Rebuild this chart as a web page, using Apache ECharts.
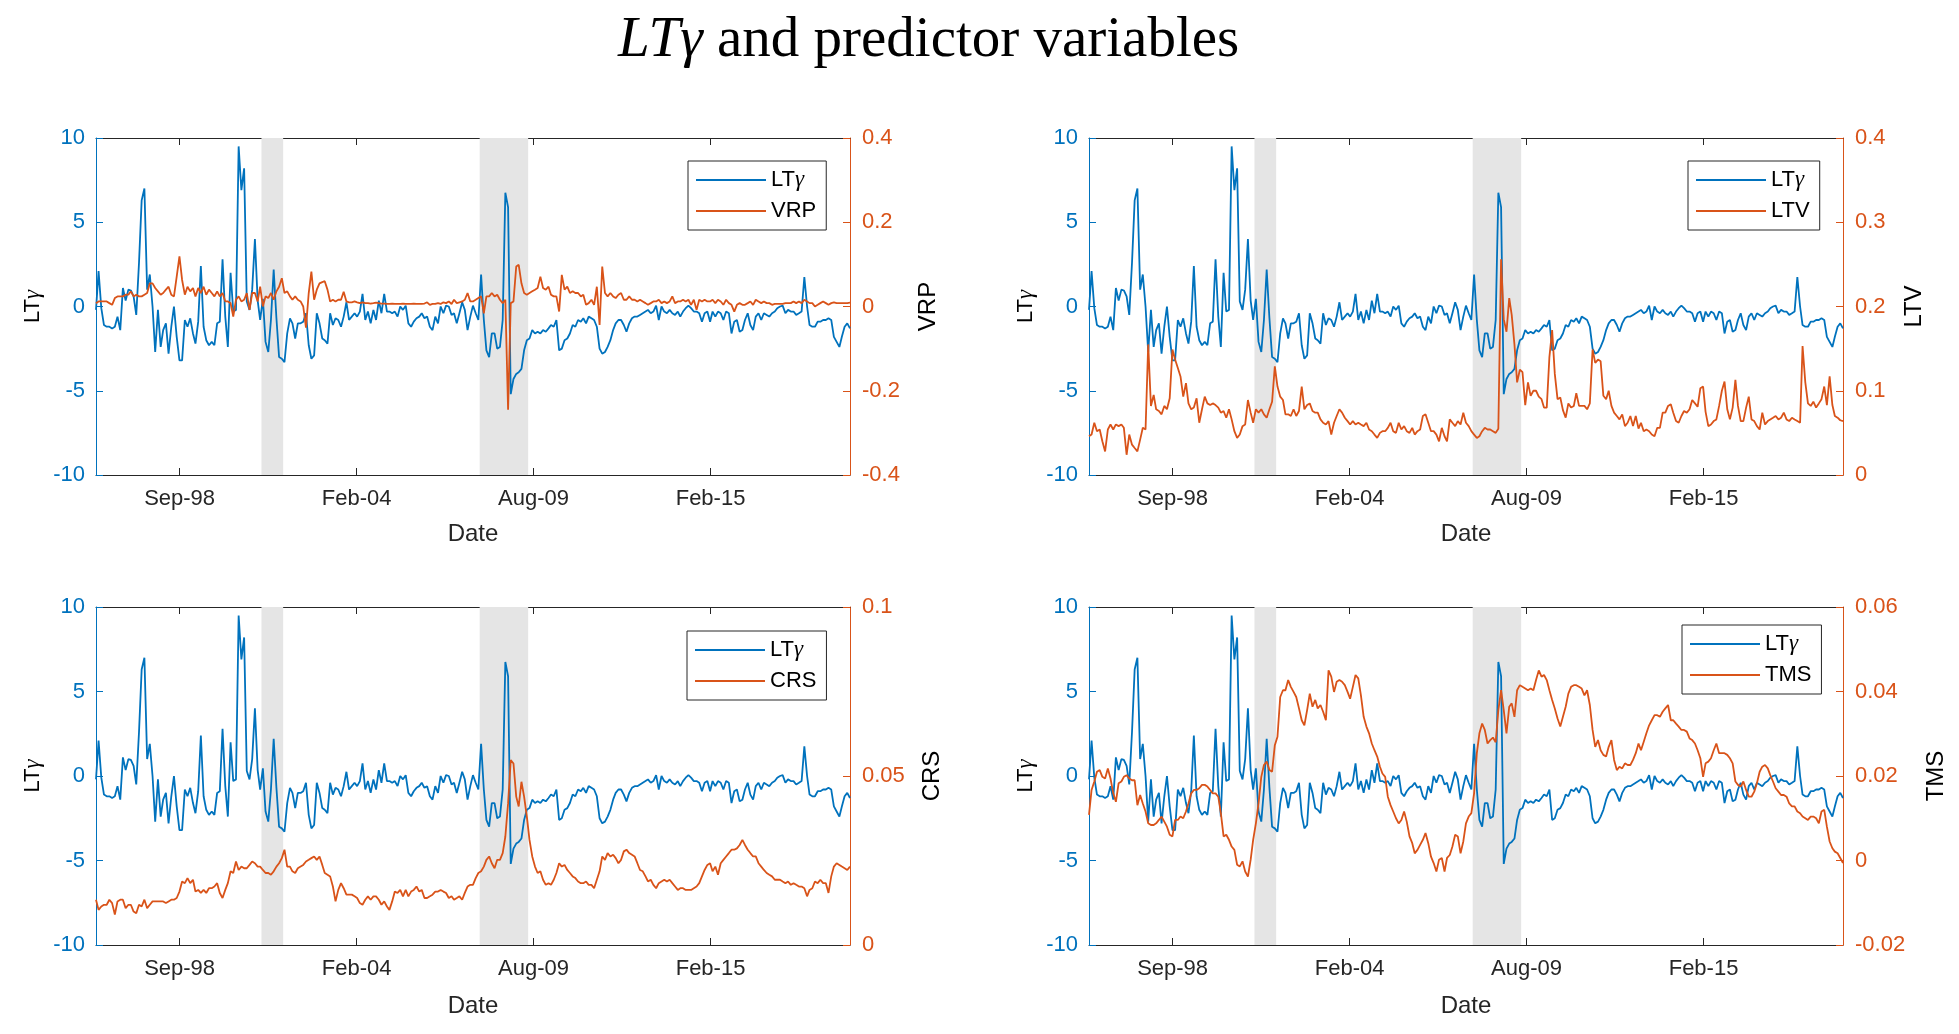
<!DOCTYPE html>
<html>
<head>
<meta charset="utf-8">
<title>LTγ and predictor variables</title>
<script src="https://cdn.jsdelivr.net/npm/echarts@6.0.0/dist/echarts.min.js"></script>
<style>
html, body { margin: 0; padding: 0; background: #fff; }
#main { width: 1959px; height: 1034px; }
</style>
</head>
<body>
<div id="main"></div>
<script>
// monthly observations, month-end, starting January 1996
var startYear = 1996;

var ltGamma = [
  -0.2, 2.1, -0.1, -1.1, -1.2, -1.2, -1.3, -1.2, -0.6, -1.4,
  1.1, 0.35, 1.0, 0.95, 0.6, -0.5, 2.6, 6.3, 7.0, 1.0,
  1.9, 0.0, -2.7, -0.2, -2.4, -1.4, -1.0, -2.8, -1.2, 0.0,
  -1.8, -3.2, -3.2, -0.8, -1.2, -0.7, -1.6, -2.2, -0.9, 2.4,
  -1.2, -2.0, -2.3, -2.1, -2.3, -1.0, -0.9, 2.8, -0.6, -2.4,
  2.0, -0.3, -0.2, 9.5, 6.9, 8.2, 0.3, -0.2, 1.0, 4.0,
  0.35, -0.8, 0.45, -2.1, -2.7, -0.8, 2.2, -0.7, -3.0, -3.1,
  -3.3, -1.6, -0.7, -1.0, -1.9, -1.0, -1.0, -0.9, -0.4, -2.3,
  -3.1, -2.9, -0.4, -1.0, -1.9, -2.0, -2.2, -0.4, -1.1, -0.7,
  -0.8, -1.2, -0.6, 0.25, -0.8, -0.6, -0.4, -0.6, -0.3, 0.75,
  -0.8, -0.3, -1.0, -0.2, -0.8, 0.35, -0.4, 0.75, -0.3, -0.3,
  -0.4, -0.3, -0.6, 0.0, -0.2, 0.05, -1.0, -1.2, -0.9, -0.7,
  -0.6, -0.4, -0.7, -0.6, -1.2, -1.4, -0.6, -1.0, 0.0, -0.4,
  0.05, 0.0, -0.5, -0.4, -1.0, -0.4, 0.25, -0.2, -1.4, -0.6,
  0.05, -0.4, -0.8, 1.9, -0.8, -2.6, -3.0, -1.6, -1.6, -2.5,
  -2.4, -0.8, 6.75, 5.9, -5.2, -4.3, -4.0, -3.9, -3.7, -2.6,
  -2.0, -1.9, -1.4, -1.6, -1.5, -1.6, -1.4, -1.5, -1.3, -1.1,
  -1.2, -0.8, -2.6, -2.5, -2.0, -1.9, -1.6, -1.1, -1.2, -0.8,
  -0.9, -0.7, -1.0, -0.6, -0.7, -0.8, -1.2, -2.5, -2.8, -2.7,
  -2.4, -2.0, -1.4, -1.0, -0.8, -0.8, -1.1, -1.5, -1.0, -0.7,
  -0.6, -0.6, -0.5, -0.4, -0.3, -0.2, -0.4, -0.3, 0.05, -0.8,
  0.0, -0.3, -0.4, -0.2, -0.4, -0.5, -0.3, -0.6, -0.3, -0.1,
  0.05, -0.1, -0.3, -0.3, -0.4, -0.9, -0.4, -0.3, -0.9, -0.3,
  -0.6, -0.3, -0.4, -0.8, -0.3, -0.4, -1.6, -0.9, -0.8, -1.5,
  -1.4, -0.8, -0.4, -1.1, -1.4, -0.6, -0.4, -0.8, -0.4, -0.5,
  -0.6, -0.4, -0.3, -0.1, 0.0, 0.05, -0.4, -0.2, -0.3, -0.3,
  -0.5, -0.4, -0.3, 1.75, 0.0, -1.1, -1.2, -1.2, -0.9, -0.9,
  -0.8, -0.8, -0.7, -0.8, -1.8, -2.1, -2.4, -1.8, -1.2, -1.0, -1.3
];

var vrp = [
  0.008, 0.012, 0.012, 0.012, 0.012, 0.008, 0.004, 0.02, 0.024, 0.024,
  0.024, 0.028, 0.028, 0.036, 0.024, 0.028, 0.024, 0.024, 0.028, 0.032,
  0.055, 0.055, 0.044, 0.036, 0.028, 0.032, 0.04, 0.047, 0.028, 0.024,
  0.071, 0.119, 0.063, 0.028, 0.047, 0.036, 0.044, 0.024, 0.044, 0.032,
  0.047, 0.028, 0.04, 0.032, 0.024, 0.036, 0.024, 0.032, 0.012, 0.012,
  0.008, -0.024, 0.016, 0.024, 0.012, 0.016, 0.032, -0.008, 0.032, 0.032,
  0.012, 0.047, 0.0, 0.024, 0.02, 0.032, 0.016, 0.036, 0.047, 0.067,
  0.032, 0.036, 0.024, 0.016, 0.024, 0.016, 0.012, 0.0, -0.05, 0.032,
  0.083, 0.016, 0.04, 0.055, 0.058, 0.06, 0.04, 0.012, 0.016, 0.012,
  0.016, 0.016, 0.035, 0.012, 0.01, 0.01, 0.012, 0.01, 0.008, 0.01,
  0.008, 0.008, 0.007, 0.008, 0.009, 0.008, 0.007, 0.007, 0.006, 0.006,
  0.007, 0.006, 0.006, 0.006, 0.007, 0.006, 0.006, 0.006, 0.007, 0.006,
  0.006, 0.006, 0.007, 0.01, 0.004, 0.006, 0.006, 0.008, 0.006, 0.01,
  0.008, 0.012, 0.006, 0.016, 0.008, 0.01, 0.012, 0.016, 0.032, 0.012,
  0.012, 0.016, 0.02, 0.024, -0.016, 0.024, 0.024, 0.032, 0.024, 0.028,
  0.016, 0.008, 0.016, -0.245, 0.008, 0.012, 0.095, 0.099, 0.055, 0.032,
  0.028, 0.032, 0.036, 0.04, 0.044, 0.071, 0.044, 0.04, 0.047, 0.028,
  0.024, 0.024, -0.012, 0.075, 0.04, 0.047, 0.032, 0.036, 0.032, 0.032,
  0.024, 0.028, 0.004, 0.008, 0.016, 0.004, 0.047, -0.044, 0.095, 0.032,
  0.024, 0.032, 0.024, 0.02, 0.028, 0.032, 0.016, 0.016, 0.024, 0.016,
  0.016, 0.012, 0.016, 0.012, 0.008, 0.004, 0.008, 0.012, 0.012, 0.016,
  0.008, 0.012, 0.008, 0.012, 0.024, 0.008, 0.012, 0.012, 0.016, 0.012,
  0.016, 0.004, 0.016, -0.008, 0.016, 0.012, 0.016, 0.012, 0.012, 0.016,
  0.008, 0.016, 0.012, 0.004, 0.016, 0.008, 0.004, -0.012, 0.004, 0.008,
  0.004, 0.004, 0.008, 0.012, 0.004, 0.016, 0.012, 0.008, 0.012, 0.008,
  0.008, 0.004, 0.006, 0.006, 0.006, 0.006, 0.008, 0.008, 0.008, 0.012,
  0.008, 0.012, 0.008, 0.016, 0.012, 0.008, 0.008, 0.0, 0.004, 0.008,
  0.012, 0.008, 0.004, 0.008, 0.01, 0.008, 0.008, 0.008, 0.008, 0.008, 0.009
];

var ltv = [
  0.046, 0.048, 0.062, 0.052, 0.054, 0.04, 0.028, 0.054, 0.06, 0.054,
  0.06, 0.058, 0.06, 0.056, 0.024, 0.048, 0.036, 0.032, 0.028, 0.042,
  0.056, 0.054, 0.155, 0.082, 0.095, 0.078, 0.076, 0.072, 0.082, 0.078,
  0.091, 0.149, 0.137, 0.127, 0.117, 0.093, 0.109, 0.085, 0.078, 0.08,
  0.091, 0.062, 0.078, 0.093, 0.085, 0.083, 0.085, 0.083, 0.08, 0.074,
  0.076, 0.068, 0.078, 0.066, 0.052, 0.044, 0.048, 0.058, 0.06, 0.089,
  0.074, 0.062, 0.078, 0.074, 0.078, 0.072, 0.068, 0.078, 0.087, 0.129,
  0.105, 0.093, 0.089, 0.072, 0.072, 0.07, 0.078, 0.07, 0.076, 0.105,
  0.078, 0.083, 0.085, 0.076, 0.074, 0.074, 0.066, 0.062, 0.06, 0.064,
  0.048, 0.062, 0.07, 0.078, 0.074, 0.068, 0.064, 0.06, 0.064, 0.06,
  0.062, 0.06, 0.058, 0.062, 0.054, 0.052, 0.048, 0.044, 0.05, 0.052,
  0.052, 0.056, 0.062, 0.052, 0.05, 0.062, 0.054, 0.058, 0.052, 0.05,
  0.056, 0.048, 0.052, 0.054, 0.07, 0.072, 0.062, 0.052, 0.052, 0.048,
  0.04, 0.056, 0.046, 0.04, 0.066, 0.062, 0.058, 0.064, 0.06, 0.074,
  0.062, 0.058, 0.052, 0.048, 0.044, 0.046, 0.052, 0.056, 0.054, 0.054,
  0.052, 0.05, 0.055, 0.256, 0.185, 0.17, 0.21, 0.19, 0.155, 0.11,
  0.125, 0.122, 0.083, 0.11, 0.094, 0.1, 0.1, 0.093, 0.09, 0.08,
  0.08, 0.14, 0.172, 0.12, 0.09, 0.092, 0.077, 0.068, 0.085, 0.08,
  0.082, 0.097, 0.082, 0.082, 0.082, 0.078, 0.085, 0.149, 0.133, 0.137,
  0.135, 0.094, 0.09, 0.1, 0.082, 0.074, 0.07, 0.066, 0.072, 0.058,
  0.062, 0.07, 0.058, 0.07, 0.055, 0.062, 0.052, 0.054, 0.052, 0.048,
  0.046, 0.056, 0.056, 0.074, 0.074, 0.082, 0.084, 0.074, 0.064, 0.062,
  0.07, 0.076, 0.074, 0.078, 0.089, 0.085, 0.081, 0.103, 0.105, 0.075,
  0.058, 0.06, 0.064, 0.066, 0.082, 0.1, 0.111, 0.078, 0.066, 0.08,
  0.113, 0.082, 0.064, 0.064, 0.08, 0.093, 0.066, 0.064, 0.058, 0.054,
  0.074, 0.06, 0.064, 0.066, 0.068, 0.07, 0.066, 0.068, 0.074, 0.066,
  0.064, 0.068, 0.066, 0.064, 0.062, 0.153, 0.11, 0.085, 0.082, 0.087,
  0.08, 0.085, 0.09, 0.105, 0.083, 0.117, 0.083, 0.07, 0.068, 0.065, 0.064
];

var crs = [
  0.0134, 0.0104, 0.0114, 0.0119, 0.0119, 0.0134, 0.0124, 0.009, 0.0129, 0.0134,
  0.0134, 0.0109, 0.0119, 0.0119, 0.0099, 0.0094, 0.0119, 0.0114, 0.0134, 0.0109,
  0.0119, 0.0129, 0.0129, 0.0129, 0.0129, 0.0129, 0.0124, 0.0129, 0.0134, 0.0134,
  0.0139, 0.0158, 0.0188, 0.0183, 0.0198, 0.0183, 0.0193, 0.0158, 0.0163, 0.0154,
  0.0163, 0.0154, 0.0168, 0.0168, 0.0173, 0.0183, 0.0154, 0.0139, 0.0163, 0.0183,
  0.0218, 0.0213, 0.0247, 0.0222, 0.0232, 0.0227, 0.0227, 0.0237, 0.0247, 0.0242,
  0.0232, 0.0232, 0.0222, 0.0213, 0.0213, 0.0208, 0.0218, 0.0232, 0.0242, 0.0257,
  0.0282, 0.0232, 0.0232, 0.0218, 0.0213, 0.0227, 0.0232, 0.0237, 0.0247, 0.0252,
  0.0257, 0.0262, 0.0252, 0.0262, 0.0237, 0.0213, 0.0208, 0.0203, 0.0173, 0.0129,
  0.0163, 0.0183, 0.0168, 0.0149, 0.0149, 0.0149, 0.0144, 0.0139, 0.0124, 0.0119,
  0.0134, 0.0144, 0.0134, 0.0144, 0.0144, 0.0134, 0.0119, 0.0129, 0.0114, 0.0104,
  0.0129, 0.0158, 0.0154, 0.0163, 0.0144, 0.0163, 0.0144, 0.0158, 0.0163, 0.0173,
  0.0158, 0.0163, 0.0139, 0.0139, 0.0144, 0.0149, 0.0158, 0.0158, 0.0163, 0.0158,
  0.0154, 0.0139, 0.0144, 0.0134, 0.0139, 0.0144, 0.0134, 0.0154, 0.0173, 0.0178,
  0.0178, 0.0198, 0.0213, 0.0218, 0.0232, 0.0252, 0.0262, 0.0242, 0.0227, 0.0252,
  0.0252, 0.0272, 0.0321, 0.0419, 0.0547, 0.0537, 0.0439, 0.041, 0.0483, 0.0439,
  0.038, 0.0311, 0.0262, 0.0232, 0.0213, 0.0218, 0.0193, 0.0178, 0.0183, 0.0178,
  0.0193, 0.0213, 0.0242, 0.0232, 0.0237, 0.0222, 0.0213, 0.0203, 0.0198, 0.0188,
  0.0183, 0.0183, 0.0188, 0.0178, 0.0178, 0.0168, 0.0193, 0.0218, 0.0262, 0.0252,
  0.0272, 0.0262, 0.0267, 0.0257, 0.0242, 0.0252, 0.0277, 0.0282, 0.0272, 0.0267,
  0.0262, 0.0242, 0.0222, 0.0218, 0.0203, 0.0188, 0.0193, 0.0178, 0.0168, 0.0183,
  0.0188, 0.0193, 0.0188, 0.0193, 0.0183, 0.0173, 0.0163, 0.0168, 0.0168, 0.0163,
  0.0163, 0.0163, 0.0168, 0.0173, 0.0183, 0.0203, 0.0222, 0.0237, 0.0242, 0.0218,
  0.0232, 0.0208, 0.0242, 0.0252, 0.0262, 0.0272, 0.0282, 0.0282, 0.0286, 0.0296,
  0.0311, 0.0296, 0.0282, 0.0272, 0.0262, 0.0262, 0.0242, 0.0232, 0.0222, 0.0213,
  0.0208, 0.0203, 0.0193, 0.0193, 0.0193, 0.0188, 0.0183, 0.0188, 0.0178, 0.0183,
  0.0178, 0.0173, 0.0173, 0.0168, 0.0144, 0.0163, 0.0168, 0.0188, 0.0183, 0.0193,
  0.0183, 0.0183, 0.0154, 0.0203, 0.0232, 0.0242, 0.0237, 0.0232, 0.0227, 0.0222, 0.0232
];

var tms = [
  0.0108, 0.0167, 0.0187, 0.021, 0.0214, 0.0198, 0.0194, 0.0218, 0.0194, 0.0159,
  0.0139, 0.0183, 0.0187, 0.0198, 0.0202, 0.0194, 0.019, 0.019, 0.0131, 0.0155,
  0.0135, 0.0116, 0.0088, 0.0084, 0.0084, 0.0088, 0.0096, 0.0104, 0.0092, 0.008,
  0.0061, 0.0057, 0.0096, 0.0096, 0.0104, 0.01, 0.0116, 0.0135, 0.0159, 0.0167,
  0.0167, 0.0171, 0.0179, 0.0179, 0.0175, 0.0167, 0.0159, 0.0159, 0.0151, 0.0112,
  0.0057, 0.0061, 0.0049, 0.0033, 0.0025, -0.001, -0.0014, -0.0002, -0.0026, -0.0038,
  0.0002, 0.0049, 0.0088, 0.0135, 0.0198, 0.0226, 0.0234, 0.0214, 0.021, 0.0273,
  0.0293, 0.0387, 0.0403, 0.0403, 0.0427, 0.0411, 0.0399, 0.0387, 0.036, 0.0332,
  0.032, 0.0356, 0.0395, 0.0364, 0.038, 0.036, 0.0368, 0.0352, 0.0332, 0.045,
  0.0435, 0.0399, 0.0423, 0.0427, 0.0423, 0.0415, 0.0399, 0.0383, 0.0411, 0.0439,
  0.0431, 0.0391, 0.034, 0.0317, 0.0301, 0.0277, 0.0261, 0.0246, 0.0222, 0.0206,
  0.0198, 0.0151, 0.0131, 0.0116, 0.01, 0.0088, 0.0096, 0.0116, 0.0092, 0.0057,
  0.0041, 0.0017, 0.0025, 0.0037, 0.0049, 0.0065, 0.0041, 0.0009, -0.0006, -0.0026,
  0.0002, 0.0006, -0.0026, 0.0006, 0.0013, 0.0033, 0.0061, 0.0057, 0.0017, 0.0045,
  0.0088, 0.0104, 0.0112, 0.0159, 0.0254, 0.0301, 0.0324, 0.0309, 0.0277, 0.0285,
  0.0291, 0.028, 0.0356, 0.0403, 0.0356, 0.0301, 0.0364, 0.0372, 0.034, 0.0403,
  0.0415, 0.0411, 0.0407, 0.0403, 0.0407, 0.0403, 0.0427, 0.045, 0.0435, 0.0439,
  0.0427, 0.0403, 0.038, 0.036, 0.0336, 0.0317, 0.034, 0.0364, 0.0395, 0.0411,
  0.0415, 0.0415, 0.0411, 0.0407, 0.0391, 0.0403, 0.0368, 0.0309, 0.0269, 0.0285,
  0.0261, 0.025, 0.0246, 0.0269, 0.0285, 0.0238, 0.0214, 0.0222, 0.0218, 0.023,
  0.0226, 0.0226, 0.0238, 0.0254, 0.0277, 0.0261, 0.0281, 0.0301, 0.032, 0.0332,
  0.0344, 0.0344, 0.034, 0.0352, 0.036, 0.0368, 0.0332, 0.0332, 0.0324, 0.0317,
  0.0309, 0.0309, 0.0305, 0.0289, 0.0285, 0.0277, 0.0261, 0.0242, 0.0198, 0.023,
  0.0234, 0.0242, 0.0261, 0.0277, 0.0254, 0.0254, 0.0254, 0.025, 0.0242, 0.023,
  0.0187, 0.0179, 0.0175, 0.0187, 0.0167, 0.0151, 0.0151, 0.0163, 0.0183, 0.021,
  0.0222, 0.0226, 0.0218, 0.0202, 0.0187, 0.0171, 0.0163, 0.0155, 0.0155, 0.0151,
  0.0135, 0.0128, 0.0128, 0.0116, 0.0112, 0.0104, 0.01, 0.0096, 0.0104, 0.0104,
  0.01, 0.0088, 0.0116, 0.012, 0.008, 0.0045, 0.0029, 0.0021, 0.0017, 0.0006, -0.0006
];

var tickDates = ['1998-09-02', '2004-02-23', '2009-08-15', '2015-02-05'];
var tickLabels = ['Sep-98', 'Feb-04', 'Aug-09', 'Feb-15'];
var recessions = [['2001-03-15', '2001-11-15'], ['2007-12-15', '2009-06-15']];

[vrp, ltv, crs, tms].forEach(function (a, k) {
  if (a.length !== ltGamma.length) {
    throw new Error('series ' + k + ' has ' + a.length + ' values, expected ' + ltGamma.length);
  }
});

var BLUE = '#0072BD';
var ORANGE = '#D95319';
var AXIS = '#262626';
var SANS = '"Liberation Sans", Arial, sans-serif';
var SERIF = '"Liberation Serif", "DejaVu Serif", serif';

function monthEnd(i) { return Date.UTC(startYear, i + 1, 0); }
function toPairs(arr) { return arr.map(function (v, i) { return [monthEnd(i), v]; }); }
function toTime(s) { return Date.parse(s + 'T00:00:00Z'); }

var xMin = monthEnd(0);
var xMax = monthEnd(ltGamma.length - 1);
var tickValues = tickDates.map(toTime);

function tickFormatter(v) {
  for (var i = 0; i < tickValues.length; i++) {
    if (Math.abs(tickValues[i] - v) < 86400000) return tickLabels[i];
  }
  return '';
}

var ltRich = {
  a: { fontFamily: SANS, fontSize: 22, color: '#000' },
  g: { fontFamily: SERIF, fontStyle: 'italic', fontSize: 23, color: '#000' }
};

var panels = [
  { name: 'VRP', data: vrp, min: -0.4, max: 0.4, interval: 0.2,
    left: 96, top: 138, height: 337, nameGap: 66, legendLeft: 688, legendTop: 161 },
  { name: 'LTV', data: ltv, min: 0, max: 0.4, interval: 0.1,
    left: 1089, top: 138, height: 337, nameGap: 59, legendLeft: 1688, legendTop: 161 },
  { name: 'CRS', data: crs, min: 0, max: 0.1, interval: 0.05,
    left: 96, top: 607, height: 338, nameGap: 70, legendLeft: 687, legendTop: 631 },
  { name: 'TMS', data: tms, min: -0.02, max: 0.06, interval: 0.02,
    left: 1089, top: 607, height: 338, nameGap: 81, legendLeft: 1682, legendTop: 625 }
];

var grids = [], xAxes = [], yAxes = [], series = [], legends = [];

panels.forEach(function (p, g) {
  grids.push({ left: p.left, top: p.top, width: 754, height: p.height, outerBoundsMode: 'none' });

  xAxes.push({
    type: 'value', gridIndex: g, position: 'bottom', min: xMin, max: xMax,
    axisLine: { show: true, onZero: false, lineStyle: { color: AXIS, width: 1 } },
    axisTick: { show: true, inside: true, length: 7, customValues: tickValues, lineStyle: { color: AXIS } },
    axisLabel: { customValues: tickValues, formatter: tickFormatter, color: AXIS,
      fontFamily: SANS, fontSize: 22, margin: 13 },
    splitLine: { show: false },
    name: 'Date', nameLocation: 'middle', nameGap: g < 2 ? 47 : 49,
    nameTextStyle: { color: AXIS, fontFamily: SANS, fontSize: 24 }
  });
  xAxes.push({
    type: 'value', gridIndex: g, position: 'top', min: xMin, max: xMax,
    axisLine: { show: true, onZero: false, lineStyle: { color: AXIS, width: 1 } },
    axisTick: { show: true, inside: true, length: 7, customValues: tickValues, lineStyle: { color: AXIS } },
    axisLabel: { show: false },
    splitLine: { show: false }
  });

  yAxes.push({
    type: 'value', gridIndex: g, position: 'left', min: -10, max: 10, interval: 5,
    axisLine: { show: true, onZero: false, lineStyle: { color: BLUE, width: 1 } },
    axisTick: { show: true, inside: true, length: 7, lineStyle: { color: BLUE } },
    axisLabel: { color: BLUE, fontFamily: SANS, fontSize: 22, margin: 11 },
    splitLine: { show: false },
    name: '{a|LT}{g|γ}', nameLocation: 'middle', nameGap: 52, nameRotate: 90,
    nameTextStyle: { rich: ltRich }
  });
  yAxes.push({
    type: 'value', gridIndex: g, position: 'right', min: p.min, max: p.max, interval: p.interval,
    axisLine: { show: true, onZero: false, lineStyle: { color: ORANGE, width: 1 } },
    axisTick: { show: true, inside: true, length: 7, lineStyle: { color: ORANGE } },
    axisLabel: { color: ORANGE, fontFamily: SANS, fontSize: 22, margin: 12 },
    splitLine: { show: false },
    name: p.name, nameLocation: 'middle', nameGap: p.nameGap, nameRotate: 90,
    nameTextStyle: { color: '#000', fontFamily: SANS, fontSize: 24 }
  });

  // recession shading
  series.push({
    type: 'line', xAxisIndex: 2 * g, yAxisIndex: 2 * g, data: [], silent: true, z: 1,
    markArea: {
      silent: true,
      itemStyle: { color: '#e5e5e5' },
      data: recessions.map(function (r) { return [{ xAxis: toTime(r[0]) }, { xAxis: toTime(r[1]) }]; })
    }
  });
  series.push({
    name: 'LTγ', type: 'line', xAxisIndex: 2 * g, yAxisIndex: 2 * g,
    data: toPairs(ltGamma), symbol: 'none', z: 3,
    lineStyle: { color: BLUE, width: 1.8 }, itemStyle: { color: BLUE }
  });
  series.push({
    name: p.name, type: 'line', xAxisIndex: 2 * g, yAxisIndex: 2 * g + 1,
    data: toPairs(p.data), symbol: 'none', z: 4,
    lineStyle: { color: ORANGE, width: 1.8 }, itemStyle: { color: ORANGE }
  });

  legends.push({
    orient: 'vertical', left: p.legendLeft, top: p.legendTop,
    data: ['LTγ', p.name], selectedMode: false, z: 10,
    icon: 'rect', itemWidth: 70, itemHeight: 2, itemGap: 7, padding: [7, 10, 7, 8],
    borderColor: AXIS, borderWidth: 1, backgroundColor: '#fff',
    formatter: function (n) { return n === 'LTγ' ? '{a|LT}{g|γ}' : n; },
    textStyle: { color: '#000', fontFamily: SANS, fontSize: 22, lineHeight: 24, rich: ltRich }
  });
});

var chart = echarts.init(document.getElementById('main'));
chart.setOption({
  animation: false,
  backgroundColor: '#fff',
  title: {
    text: '{i|LTγ}{b| and predictor variables}',
    left: 613, top: 8,
    textStyle: {
      fontWeight: 'normal',
      rich: {
        i: { fontFamily: SERIF, fontStyle: 'italic', fontWeight: 'normal', fontSize: 57, color: '#000' },
        b: { fontFamily: SERIF, fontWeight: 'normal', fontSize: 57, color: '#000' }
      }
    }
  },
  grid: grids,
  xAxis: xAxes,
  yAxis: yAxes,
  legend: legends,
  series: series
});
</script>
</body>
</html>
